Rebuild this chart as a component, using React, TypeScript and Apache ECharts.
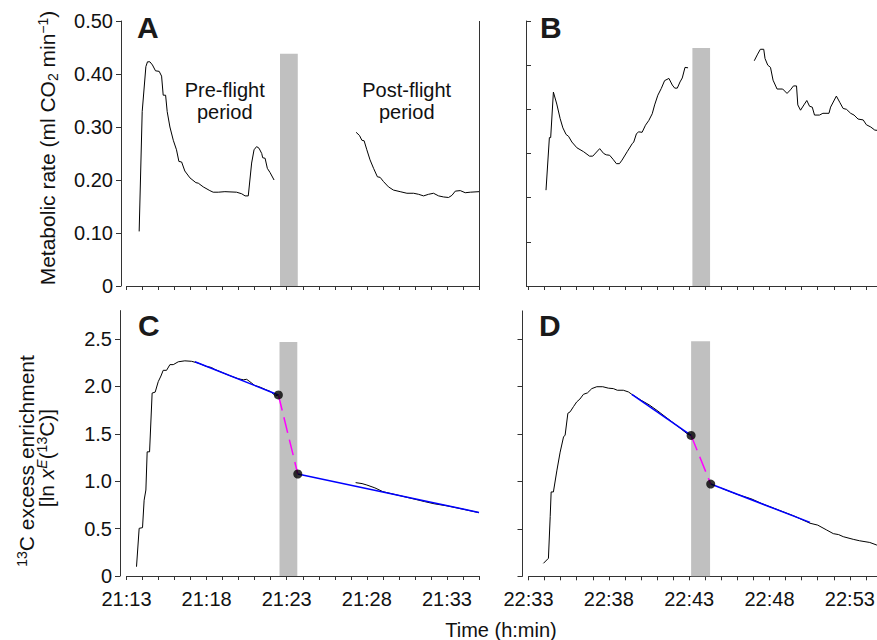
import React, { useEffect, useRef } from 'react';
import * as echarts from 'echarts';

const FONT = "'Liberation Sans', Arial, Helvetica, sans-serif";

// Panel start times (h, min); x values are minutes after these
const startAC: [number, number] = [21, 13];
const startBD: [number, number] = [22, 33];
const xTickValues = [0, 1, 2, 3, 4, 5, 6, 7, 8, 9, 10, 11, 12, 13, 14, 15, 16, 17, 18, 19, 20, 21, 22];
const xLabelValues = [0, 5, 10, 15, 20];
const rateTicksA = [0, 0.1, 0.2, 0.3, 0.4, 0.5];
const rateTicksB = [0, 0.1, 0.2, 0.3, 0.4, 0.5, 0.6];
const enrichTicks = [0, 0.5, 1.0, 1.5, 2.0, 2.5];

// Flight periods (x start, x end, bar top)
const flightA = [[9.58, 10.69, 0.438]];
const flightB = [[10.2, 11.3, 0.539]];
const flightC = [[9.55, 10.66, 2.47]];
const flightD = [[10.12, 11.3, 2.48]];

// Panel A: metabolic rate
const rateA_pre = [
  [0.79, 0.103], [0.98, 0.329], [1.21, 0.414], [1.31, 0.423], [1.46, 0.423], [1.62, 0.417], [1.81, 0.406],
  [2.04, 0.405], [2.19, 0.396], [2.29, 0.36], [2.44, 0.36], [2.54, 0.329], [2.71, 0.3], [2.92, 0.275],
  [3.12, 0.257], [3.27, 0.235], [3.44, 0.234], [3.64, 0.217], [3.96, 0.204], [4.33, 0.195], [4.48, 0.194],
  [4.79, 0.187], [5.2, 0.18], [5.41, 0.177], [5.73, 0.177], [6.14, 0.178], [6.87, 0.177], [7.19, 0.174],
  [7.4, 0.17], [7.6, 0.17], [7.81, 0.232], [7.96, 0.257], [8.12, 0.263], [8.27, 0.26], [8.44, 0.25],
  [8.5, 0.242], [8.65, 0.241], [8.79, 0.222], [8.96, 0.214], [9.21, 0.2],
];
const rateA_post = [
  [14.33, 0.29], [14.54, 0.284], [14.69, 0.275], [14.83, 0.274], [15.0, 0.257], [15.2, 0.238], [15.42, 0.222],
  [15.66, 0.206], [15.83, 0.205], [16.04, 0.197], [16.35, 0.187], [16.66, 0.181], [17.08, 0.178], [17.5, 0.175],
  [17.92, 0.175], [18.23, 0.173], [18.54, 0.17], [18.85, 0.173], [19.16, 0.175], [19.48, 0.17], [19.79, 0.168],
  [20.1, 0.167], [20.31, 0.171], [20.52, 0.179], [20.83, 0.18], [21.14, 0.176], [21.46, 0.177], [22.0, 0.178],
];

// Panel B: metabolic rate
const rateB_pre = [
  [1.09, 0.217], [1.3, 0.336], [1.38, 0.336], [1.55, 0.439], [1.76, 0.412], [1.97, 0.379], [2.14, 0.358],
  [2.34, 0.343], [2.49, 0.339], [2.7, 0.326], [3.01, 0.313], [3.43, 0.304], [3.8, 0.294], [4.0, 0.294],
  [4.43, 0.311], [4.68, 0.3], [4.84, 0.297], [5.05, 0.296], [5.26, 0.287], [5.47, 0.277], [5.66, 0.277],
  [5.82, 0.285], [6.14, 0.304], [6.45, 0.322], [6.55, 0.326], [6.72, 0.345], [6.86, 0.349], [7.07, 0.348],
  [7.28, 0.364], [7.49, 0.375], [7.7, 0.39], [7.85, 0.41], [8.05, 0.432], [8.26, 0.447], [8.47, 0.465],
  [8.74, 0.47], [8.95, 0.455], [9.1, 0.448], [9.26, 0.448], [9.43, 0.462], [9.57, 0.471], [9.74, 0.495],
  [9.93, 0.494],
];
const rateB_post = [
  [14.05, 0.51], [14.26, 0.525], [14.43, 0.536], [14.64, 0.536], [14.72, 0.515], [14.89, 0.5], [15.06, 0.495],
  [15.22, 0.466], [15.47, 0.446], [15.82, 0.446], [16.09, 0.436], [16.3, 0.444], [16.49, 0.453], [16.68, 0.453],
  [16.76, 0.41], [16.93, 0.398], [17.14, 0.41], [17.32, 0.42], [17.49, 0.407], [17.66, 0.405], [17.8, 0.387],
  [18.11, 0.387], [18.32, 0.391], [18.7, 0.391], [18.8, 0.405], [19.16, 0.43], [19.37, 0.416], [19.58, 0.402],
  [19.79, 0.4], [20.05, 0.391], [20.26, 0.387], [20.51, 0.378], [20.83, 0.376], [21.03, 0.365], [21.3, 0.36],
  [21.55, 0.353], [21.8, 0.352],
];

// Panel C: 13C enrichment
const enrichC_pre = [
  [0.625, 0.098], [0.79, 0.503], [1.0, 0.51], [1.1, 0.8], [1.21, 0.907], [1.29, 1.31], [1.44, 1.31],
  [1.6, 1.93], [1.79, 1.94], [1.98, 2.05], [2.15, 2.11], [2.29, 2.17], [2.5, 2.17], [2.71, 2.23],
  [2.92, 2.23], [3.23, 2.26], [3.64, 2.27], [4.06, 2.265], [4.5, 2.245], [5.0, 2.21], [5.3, 2.2],
  [5.5, 2.18], [6.0, 2.145], [6.5, 2.11], [7.0, 2.08], [7.3, 2.07], [7.5, 2.075], [7.7, 2.05], [8.0, 2.01],
  [8.3, 1.995], [8.7, 1.965], [9.0, 1.945], [9.3, 1.9], [9.48, 1.91],
];
const enrichC_post = [
  [14.3, 0.985], [14.7, 0.975], [15.0, 0.96], [15.5, 0.93], [16.0, 0.89], [17.0, 0.85], [18.0, 0.81],
  [18.6, 0.785], [19.2, 0.762], [20.0, 0.74], [21.0, 0.705], [22.0, 0.668],
];
const fitC_pre = [[4.27, 2.26], [9.48, 1.91]];
const fitC_post = [[10.69, 1.076], [22.0, 0.671]];
const flightLossC = [[9.48, 1.91], [10.69, 1.076]];

// Panel D: 13C enrichment
const enrichD_pre = [
  [0.93, 0.137], [1.24, 0.19], [1.35, 0.63], [1.41, 0.89], [1.55, 0.89], [1.77, 1.12], [1.97, 1.31],
  [2.18, 1.47], [2.28, 1.49], [2.45, 1.72], [2.59, 1.735], [2.8, 1.79], [3.0, 1.84], [3.2, 1.87],
  [3.42, 1.92], [3.67, 1.935], [3.94, 1.98], [4.25, 2.0], [4.62, 2.0], [4.97, 1.985], [5.28, 1.98],
  [5.53, 1.963], [5.9, 1.963], [6.22, 1.945], [6.43, 1.92], [7.0, 1.858], [7.5, 1.81], [8.0, 1.75],
  [8.5, 1.685], [9.0, 1.62], [9.5, 1.555], [9.9, 1.5], [10.12, 1.486],
];
const enrichD_post = [
  [12.0, 0.93], [13.0, 0.864], [13.9, 0.815], [14.5, 0.768], [15.5, 0.703], [16.5, 0.638], [17.52, 0.56],
  [18.0, 0.54], [18.56, 0.488], [18.97, 0.45], [19.3, 0.44], [19.59, 0.418], [20.21, 0.39], [20.6, 0.375],
  [21.24, 0.357], [21.67, 0.33], [22.0, 0.32],
];
const fitD_pre = [[6.43, 1.92], [10.12, 1.486]];
const fitD_post = [[11.34, 0.973], [17.52, 0.569]];
const flightLossD = [[10.12, 1.486], [11.34, 0.973]];

const AXIS_COLOR = '#333';
const TEXT_COLOR = '#111';

function timeFormatter(start: [number, number]) {
  return (v: number) => {
    const r = Math.round(v);
    if (Math.abs(v - r) > 1e-6 || r % 5 !== 0) return '';
    const total = start[0] * 60 + start[1] + r;
    const h = Math.floor(total / 60);
    const m = total % 60;
    return `${h}:${m < 10 ? '0' + m : m}`;
  };
}

function makeX(gridIndex: number, showLabels: boolean, start: [number, number], max: number) {
  return {
    type: 'value',
    gridIndex,
    min: 0,
    max,
    interval: 1,
    axisLine: { show: true, onZero: false, lineStyle: { color: AXIS_COLOR, width: 1 } },
    axisTick: { show: true, length: 4, inside: false, customValues: xTickValues, lineStyle: { color: AXIS_COLOR } },
    axisLabel: {
      show: showLabels,
      customValues: xLabelValues,
      formatter: timeFormatter(start),
      fontSize: 20,
      lineHeight: 16,
      fontFamily: FONT,
      color: TEXT_COLOR,
      margin: 15,
      hideOverlap: false,
    },
    splitLine: { show: false },
    minorTick: { show: false },
  };
}

function makeY(
  gridIndex: number,
  max: number,
  interval: number,
  ticks: number[],
  showLabels: boolean,
  digits: number,
  offset: number,
  inside: boolean,
) {
  return {
    type: 'value',
    gridIndex,
    min: 0,
    max,
    interval,
    offset,
    axisLine: { show: true, onZero: false, lineStyle: { color: AXIS_COLOR, width: 1 } },
    axisTick: { show: true, length: 5, inside, customValues: ticks, lineStyle: { color: AXIS_COLOR } },
    axisLabel: {
      show: showLabels,
      customValues: ticks,
      formatter: (v: number) => {
        if (v > ticks[ticks.length - 1] + 1e-9) return '';
        return v === 0 ? '0' : v.toFixed(digits);
      },
      fontSize: 20,
      lineHeight: 16,
      fontFamily: FONT,
      color: TEXT_COLOR,
      margin: 8,
    },
    splitLine: { show: false },
  };
}

function lineSeries(data: number[][], idx: number, color: string, width: number, z: number, dash?: number[]) {
  return {
    type: 'line',
    xAxisIndex: idx,
    yAxisIndex: idx,
    data,
    showSymbol: false,
    symbol: 'none',
    smooth: false,
    z,
    silent: true,
    lineStyle: { color, width, type: dash ? dash : 'solid' },
  };
}

function flightBar(data: number[][], idx: number) {
  return {
    type: 'custom',
    xAxisIndex: idx,
    yAxisIndex: idx,
    z: 1,
    silent: true,
    data,
    encode: { x: [0, 1], y: 2 },
    renderItem: (_params: any, api: any) => {
      const p0 = api.coord([api.value(0), api.value(2)]);
      const p1 = api.coord([api.value(1), 0]);
      return {
        type: 'rect',
        shape: { x: p0[0], y: p0[1], width: p1[0] - p0[0], height: p1[1] - p0[1] },
        style: { fill: '#c0c0c0' },
      };
    },
  };
}

function dots(data: number[][], idx: number) {
  return {
    type: 'scatter',
    xAxisIndex: idx,
    yAxisIndex: idx,
    data,
    symbol: 'circle',
    symbolSize: 9,
    z: 5,
    silent: true,
    itemStyle: { color: '#000' },
  };
}

export default function App() {
  const ref = useRef<HTMLDivElement>(null);

  useEffect(() => {
    if (!ref.current) return;
    const chart = echarts.init(ref.current, undefined, { renderer: 'svg' });

    const titleRich = {
      sup: { fontSize: 14, verticalAlign: 'top', fontFamily: FONT, lineHeight: 14 },
      sub: { fontSize: 14, verticalAlign: 'bottom', fontFamily: FONT, lineHeight: 14 },
      it: { fontSize: 21, fontStyle: 'italic', fontFamily: FONT },
      supit: { fontSize: 14, fontStyle: 'italic', verticalAlign: 'top', fontFamily: FONT, lineHeight: 14 },
    };

    const option: any = {
      animation: false,
      backgroundColor: '#fff',
      textStyle: { fontFamily: FONT },
      grid: [
        { left: 126.5, top: 21, width: 352.5, height: 265, outerBoundsMode: 'none' },
        { left: 528.5, top: 21, width: 353.5, height: 265, outerBoundsMode: 'none' },
        { left: 126.5, top: 310.6, width: 352.5, height: 265.4, outerBoundsMode: 'none' },
        { left: 528.5, top: 310.9, width: 353.5, height: 265.4, outerBoundsMode: 'none' },
      ],
      xAxis: [
        makeX(0, false, startAC, 22),
        makeX(1, false, startBD, 22),
        makeX(2, true, startAC, 22),
        makeX(3, true, startBD, 22),
      ],
      yAxis: [
        makeY(0, 0.5, 0.1, rateTicksA, true, 2, 5.5, false),
        makeY(1, 0.6, 0.1, rateTicksB, false, 2, 2.5, true),
        makeY(2, 2.8, 0.5, enrichTicks, true, 1, 6.5, false),
        makeY(3, 2.8, 0.5, enrichTicks, false, 1, 6, false),
      ],
      series: [
        flightBar(flightA, 0),
        flightBar(flightB, 1),
        flightBar(flightC, 2),
        flightBar(flightD, 3),
        lineSeries(rateA_pre, 0, '#000', 1, 2),
        lineSeries(rateA_post, 0, '#000', 1, 2),
        lineSeries(rateB_pre, 1, '#000', 1, 2),
        lineSeries(rateB_post, 1, '#000', 1, 2),
        lineSeries(enrichC_pre, 2, '#000', 1, 2),
        lineSeries(enrichC_post, 2, '#000', 1, 2),
        lineSeries(fitC_pre, 2, '#0000ff', 1.5, 3),
        lineSeries(fitC_post, 2, '#0000ff', 1.5, 3),
        lineSeries(flightLossC, 2, '#ff00ff', 1.5, 3, [16, 7]),
        dots(flightLossC, 2),
        lineSeries(enrichD_pre, 3, '#000', 1, 2),
        lineSeries(enrichD_post, 3, '#000', 1, 2),
        lineSeries(fitD_pre, 3, '#0000ff', 1.5, 3),
        lineSeries(fitD_post, 3, '#0000ff', 1.5, 3),
        lineSeries(flightLossD, 3, '#ff00ff', 1.5, 3, [16, 7]),
        dots(flightLossD, 3),
      ],
      graphic: [
        {
          type: 'line',
          shape: { x1: 479.5, y1: 21, x2: 479.5, y2: 286 },
          style: { stroke: AXIS_COLOR, lineWidth: 1 },
          silent: true,
        },
        { type: 'text', x: 137, y: 27.5, style: { text: 'A', font: `bold 30px ${FONT}`, fill: '#1a1a1a', align: 'left', verticalAlign: 'middle' } },
        { type: 'text', x: 540, y: 27, style: { text: 'B', font: `bold 30px ${FONT}`, fill: '#1a1a1a', align: 'left', verticalAlign: 'middle' } },
        { type: 'text', x: 138, y: 325, style: { text: 'C', font: `bold 30px ${FONT}`, fill: '#1a1a1a', align: 'left', verticalAlign: 'middle' } },
        { type: 'text', x: 539, y: 325, style: { text: 'D', font: `bold 30px ${FONT}`, fill: '#1a1a1a', align: 'left', verticalAlign: 'middle' } },
        {
          type: 'text', x: 224.7, y: 101.4,
          style: { text: 'Pre-flight\nperiod', font: `20px ${FONT}`, fill: TEXT_COLOR, align: 'center', verticalAlign: 'middle', lineHeight: 22 },
        },
        {
          type: 'text', x: 406.7, y: 101.4,
          style: { text: 'Post-flight\nperiod', font: `20px ${FONT}`, fill: TEXT_COLOR, align: 'center', verticalAlign: 'middle', lineHeight: 22 },
        },
        {
          type: 'text', x: 47.7, y: 148, rotation: Math.PI / 2,
          style: {
            text: 'Metabolic rate (ml CO{sub|2} min{sup|−1})',
            fontSize: 21, fontFamily: FONT, fill: TEXT_COLOR, align: 'center', verticalAlign: 'middle', lineHeight: 24,
            rich: titleRich,
          },
        },
        {
          type: 'text', x: 26.5, y: 461, rotation: Math.PI / 2,
          style: {
            text: '{sup|13}C excess enrichment',
            fontSize: 21, fontFamily: FONT, fill: TEXT_COLOR, align: 'center', verticalAlign: 'middle', lineHeight: 24,
            rich: titleRich,
          },
        },
        {
          type: 'text', x: 46.5, y: 458, rotation: Math.PI / 2,
          style: {
            text: '[ln {it|x}{supit|E}({sup|13}C)]',
            fontSize: 21, fontFamily: FONT, fill: TEXT_COLOR, align: 'center', verticalAlign: 'middle', lineHeight: 24,
            rich: titleRich,
          },
        },
        {
          type: 'text', x: 501, y: 629.5,
          style: { text: 'Time (h:min)', font: `20px ${FONT}`, fill: TEXT_COLOR, align: 'center', verticalAlign: 'middle' },
        },
      ],
    };

    chart.setOption(option);
    return () => {
      chart.dispose();
    };
  }, []);

  return (
    <div
      ref={ref}
      style={{ position: 'fixed', left: 0, top: 0, width: 877, height: 640, background: '#fff' }}
    />
  );
}
